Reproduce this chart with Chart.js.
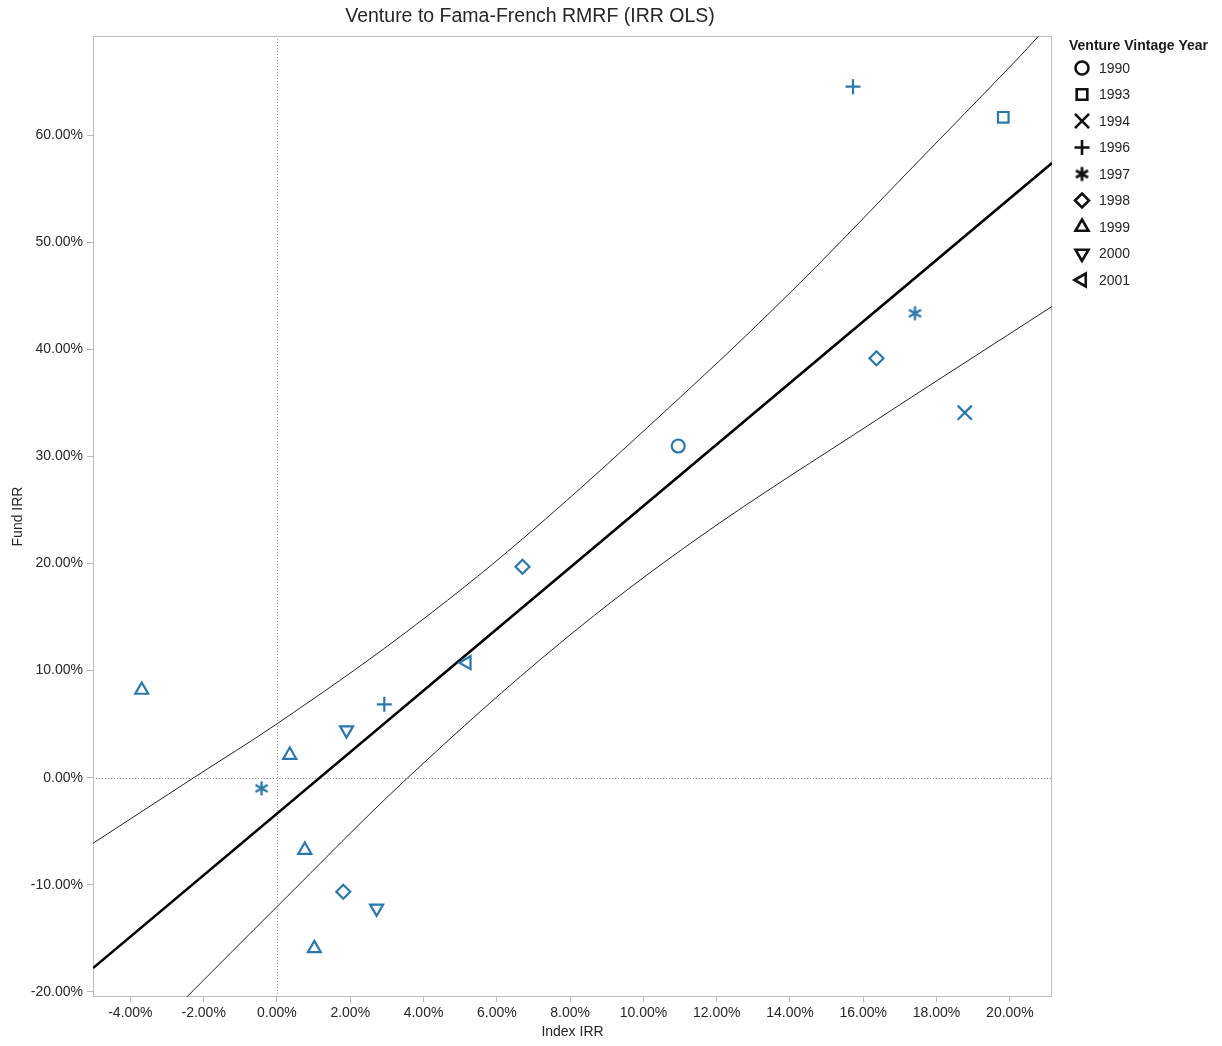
<!DOCTYPE html>
<html>
<head>
<meta charset="utf-8">
<title>Venture to Fama-French RMRF (IRR OLS)</title>
<script src="https://cdn.jsdelivr.net/npm/chart.js@4.4.1/dist/chart.umd.min.js"></script>
<style>
  html, body { margin: 0; padding: 0; background: #fff; }
  #wrap { position: relative; width: 1222px; height: 1046px; }
</style>
</head>
<body>
<div id="wrap"><canvas id="irrChart" width="1222" height="1046"></canvas></div>
<script>
// ── Data (in %) ───────────────────────────────────
const vintageYears = ['1990', '1993', '1994', '1996', '1997', '1998', '1999', '2000', '2001'];

const pointYear = ['1990', '1993', '1994', '1996', '1996', '1997', '1997', '1998', '1998', '1998',
                   '1999', '1999', '1999', '1999', '2000', '2000', '2001'];
const indexIRR  = [10.95, 19.82, 18.77, 15.72, 2.93, 17.41, -0.42, 16.36, 6.70, 1.81,
                   -3.69, 0.35, 0.76, 1.02, 1.90, 2.72, 5.18];
const fundIRR   = [30.97, 61.66, 34.08, 64.52, 6.85, 43.36, -0.99, 39.16, 19.70, -10.64,
                   8.19, 2.12, -6.75, -15.93, 4.45, -12.20, 10.74];

// OLS fit line, end points at the plot edges
const fitX = [-5.02, 21.15];
const fitY = [-17.77, 57.39];

// confidence bands
const upperX = [-5.02, -2.24, 0.02, 3.36, 6.72, 11.27, 14.27, 17.36, 20.18, 20.77];
const upperY = [-6.12, 0.07, 5.08, 13.17, 22.35, 36.36, 46.19, 57.05, 67.01, 69.19];
const lowerX = [-2.46, 0.0, 3.57, 7.72, 11.54, 16.36, 21.15];
const lowerY = [-20.47, -12.04, 0.0, 12.55, 22.50, 33.40, 44.0];

const xTicks = [-4, -2, 0, 2, 4, 6, 8, 10, 12, 14, 16, 18, 20];
const yTicks = [-20, -10, 0, 10, 20, 30, 40, 50, 60];

// ── Styles ────────────────────────────────
const FONT = '"Liberation Sans", Arial, sans-serif';
const BLUE = '#2a78aa';
const TEXT = '#262626';

function makeAsterisk(color, len, width) {
    const c = document.createElement('canvas');
    const s = Math.ceil(len * 2 + width + 2);
    c.width = s; c.height = s;
    const g = c.getContext('2d');
    g.strokeStyle = color;
    g.lineWidth = width;
    [90, 30, 150].forEach(deg => {
        const a = deg * Math.PI / 180;
        g.beginPath();
        g.moveTo(s / 2 - Math.cos(a) * len, s / 2 - Math.sin(a) * len);
        g.lineTo(s / 2 + Math.cos(a) * len, s / 2 + Math.sin(a) * len);
        g.stroke();
    });
    return c;
}

const markerStyle  = ['circle', 'rect', 'crossRot', 'cross', 'asterisk', 'rectRot', 'triangle', 'triangle', 'triangle'];
const markerRot    = [0, 0, 0, 0, 0, 0, 0, 180, -90];
const markerRadius = [6.5, 7.5, 10, 7.5, 7, 7, 7.5, 7.5, 7.5];

const starBlue  = makeAsterisk(BLUE, 7, 2.4);
const starBlack = makeAsterisk('#111', 7, 2.8);

function styleFor(i, black) {
    if (markerStyle[i] === 'asterisk') return black ? starBlack : starBlue;
    return markerStyle[i];
}

// ── Datasets ──────────────────────────────
const pointSets = vintageYears.map((yr, i) => ({
    label: yr,
    data: pointYear.map((p, k) => p === yr ? { x: indexIRR[k], y: fundIRR[k] } : null).filter(Boolean),
    pointStyle: styleFor(i, false),
    rotation: markerRot[i],
    pointRadius: markerRadius[i],
    pointHoverRadius: markerRadius[i],
    borderColor: BLUE,
    backgroundColor: 'rgba(0,0,0,0)',
    borderWidth: 2.2,
    order: 0
}));

const toXY = (xs, ys) => xs.map((x, k) => ({ x, y: ys[k] }));

const lineSets = [
    { label: 'fit',   data: toXY(fitX, fitY),     borderColor: '#000',  borderWidth: 2.6 },
    { label: 'upper', data: toXY(upperX, upperY), borderColor: '#222',  borderWidth: 1 },
    { label: 'lower', data: toXY(lowerX, lowerY), borderColor: '#222',  borderWidth: 1 }
].map(d => Object.assign(d, {
    showLine: true, pointRadius: 0, pointHoverRadius: 0,
    tension: 0.35, order: 10
}));

// ── Plugins ───────────────────────────────
const frameAndZero = {
    id: 'frameAndZero',
    beforeDatasetsDraw(chart) {
        const { ctx, chartArea: a, scales } = chart;
        const x0 = Math.round(scales.x.getPixelForValue(0)) + 0.5;
        const y0 = Math.round(scales.y.getPixelForValue(0)) + 0.5;
        ctx.save();
        ctx.strokeStyle = '#9a9a9a';
        ctx.lineWidth = 1;
        ctx.setLineDash([1, 2]);
        ctx.beginPath();
        ctx.moveTo(x0, a.top); ctx.lineTo(x0, a.bottom);
        ctx.moveTo(a.left, y0); ctx.lineTo(a.right, y0);
        ctx.stroke();
        ctx.setLineDash([]);
        ctx.strokeStyle = '#bdbdbd';
        ctx.strokeRect(a.left + 0.5, a.top + 0.5, a.right - a.left - 1, a.bottom - a.top - 1);
        ctx.restore();
    }
};

const titleAndLegend = {
    id: 'titleAndLegend',
    afterDraw(chart) {
        const ctx = chart.ctx;
        ctx.save();
        ctx.fillStyle = TEXT;
        ctx.textBaseline = 'middle';
        ctx.textAlign = 'center';
        ctx.font = '19.5px ' + FONT;
        ctx.fillText('Venture to Fama-French RMRF (IRR OLS)', 530, 17);

        ctx.textAlign = 'left';
        ctx.fillStyle = '#1a1a1a';
        ctx.font = 'bold 14px ' + FONT;
        ctx.fillText('Venture Vintage Year', 1069, 46);

        ctx.font = '14px ' + FONT;
        vintageYears.forEach((yr, i) => {
            const y = 68 + i * 26.5;
            ctx.strokeStyle = '#111';
            ctx.fillStyle = 'rgba(0,0,0,0)';
            ctx.lineWidth = 2.6;
            Chart.helpers.drawPoint(ctx, {
                pointStyle: styleFor(i, true),
                rotation: markerRot[i],
                radius: markerRadius[i],
                borderWidth: 2.6
            }, 1082, y);
            ctx.fillStyle = TEXT;
            ctx.fillText(yr, 1099, y + 1);
        });
        ctx.restore();
    }
};

// ── Chart ─────────────────────────────────
const pct = v => v.toFixed(2) + '%';

new Chart(document.getElementById('irrChart'), {
    type: 'scatter',
    data: { datasets: [...pointSets, ...lineSets] },
    options: {
        responsive: false,
        animation: false,
        events: [],
        layout: { padding: { left: 0, top: 36, right: 170, bottom: 0 } },
        plugins: { legend: { display: false }, title: { display: false }, tooltip: { enabled: false } },
        scales: {
            x: {
                type: 'linear', min: -5.02, max: 21.15,
                afterBuildTicks: s => { s.ticks = xTicks.map(v => ({ value: v })); },
                afterFit: s => { s.height = 49; },
                grid: { drawOnChartArea: false, drawTicks: true, tickLength: 5, tickColor: '#bbb' },
                border: { display: false },
                ticks: { color: TEXT, font: { family: FONT, size: 14 }, padding: 3, maxRotation: 0, callback: pct },
                title: { display: true, text: 'Index IRR', color: TEXT, font: { family: FONT, size: 14 }, padding: { top: 0, bottom: 5 } }
            },
            y: {
                type: 'linear', min: -20.47, max: 69.25,
                afterBuildTicks: s => { s.ticks = yTicks.map(v => ({ value: v })); },
                afterFit: s => { s.width = 93; },
                grid: { drawOnChartArea: false, drawTicks: true, tickLength: 6, tickColor: '#bbb' },
                border: { display: false },
                ticks: { color: TEXT, font: { family: FONT, size: 14 }, padding: 4, callback: pct },
                title: { display: true, text: 'Fund IRR', color: TEXT, font: { family: FONT, size: 14 }, padding: { top: 10, bottom: 0 } }
            }
        }
    },
    plugins: [frameAndZero, titleAndLegend]
});
</script>
</body>
</html>
